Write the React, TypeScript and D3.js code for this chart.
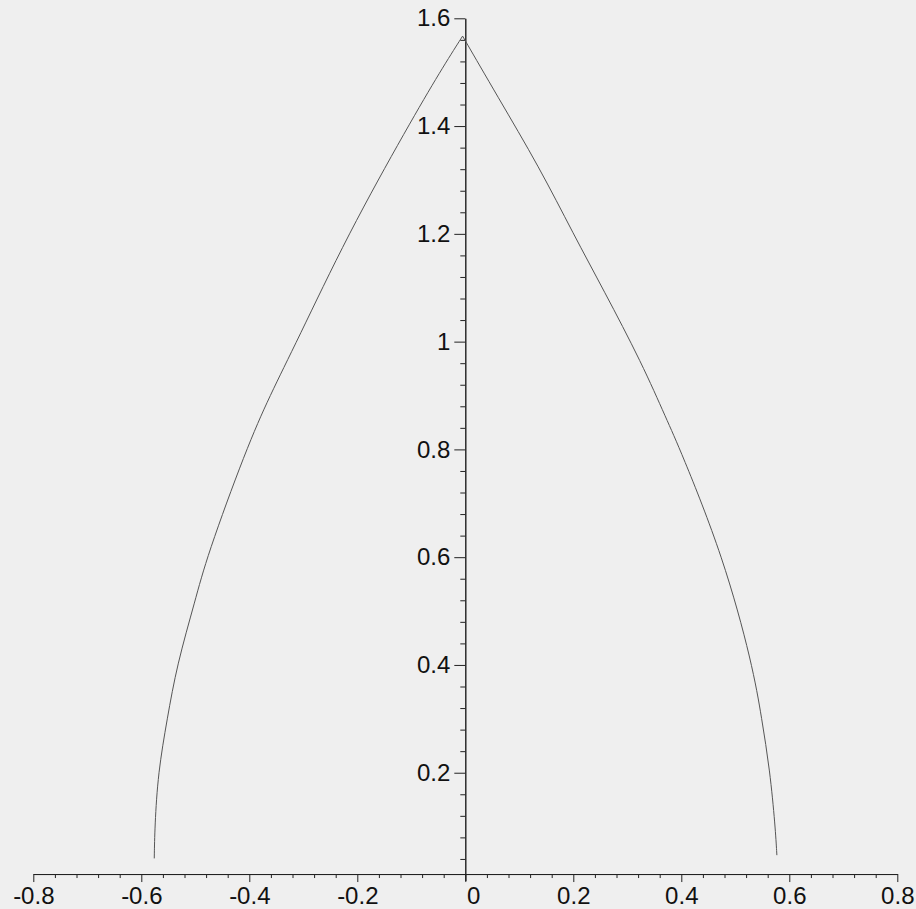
import React, { useEffect, useRef } from 'react'
import * as d3 from 'd3'

// points, bottom to top
const leftX = [-0.576, -0.575, -0.569, -0.552, -0.534, -0.5, -0.479, -0.406, -0.362, -0.312, -0.217, -0.106, -0.045, -0.005]
const leftY = [0.041, 0.1, 0.2, 0.3, 0.4, 0.52, 0.6, 0.8, 0.9, 1.0, 1.2, 1.4, 1.504, 1.567]
const rightX = [0.577, 0.574, 0.564, 0.549, 0.532, 0.478, 0.398, 0.373, 0.327, 0.256, 0.2, 0.138, 0.058, -0.005]
const rightY = [0.047, 0.1, 0.205, 0.3, 0.4, 0.6, 0.8, 0.855, 0.96, 1.096, 1.2, 1.322, 1.458, 1.567]

const xTicks = [-0.8, -0.6, -0.4, -0.2, 0, 0.2, 0.4, 0.6, 0.8]
const xTickLabels = ['-0.8', '-0.6', '-0.4', '-0.2', '0', '0.2', '0.4', '0.6', '0.8']
const yTicks = [0.2, 0.4, 0.6, 0.8, 1, 1.2, 1.4, 1.6]
const yTickLabels = ['0.2', '0.4', '0.6', '0.8', '1', '1.2', '1.4', '1.6']
const xAxisAt = 0.012

const width = 916
const height = 909

function App() {
    const svgRef = useRef<SVGSVGElement>(null)

    useEffect(() => {
        const svg = d3.select(svgRef.current)
        svg.selectAll('*').remove()

        const x = d3.scaleLinear().domain([-0.8, 0.8]).range([33.3, 897.3])
        const y = d3.scaleLinear().domain([0, 1.6]).range([880.5, 18.3])

        svg.append('rect')
            .attr('width', width)
            .attr('height', height)
            .attr('fill', '#efefef')

        const xMinor = d3.range(-20, 21).map(i => i * 0.04).filter(v => !xTicks.some(t => Math.abs(t - v) < 1e-6))
        const yMinor = d3.range(1, 40).map(i => i * 0.04).filter(v => !yTicks.some(t => Math.abs(t - v) < 1e-6))

        // x axis
        const gx = svg.append('g').attr('transform', `translate(0,${y(xAxisAt)})`)
        gx.call(d3.axisBottom(x).tickValues(xMinor).tickSize(4).tickSizeOuter(0).tickFormat(() => ''))
        gx.append('g').call(
            d3.axisBottom(x)
                .tickValues(xTicks)
                .tickSize(8)
                .tickSizeOuter(0)
                .tickPadding(5)
                .tickFormat((d, i) => xTickLabels[i])
        )
        gx.selectAll('.domain').attr('stroke', '#222')
        gx.selectAll('.tick line').attr('stroke', '#222')
        gx.selectAll('.tick text')
            .attr('fill', '#111')
            .style('font-family', 'Liberation Sans, Arial, sans-serif')
            .style('font-size', '24px')
            .attr('dx', (d: any) => (d === 0 ? 8 : 0))

        // y axis
        const gy = svg.append('g').attr('transform', `translate(${x(0)},0)`)
        gy.call(d3.axisLeft(y).tickValues(yMinor).tickSize(5).tickSizeOuter(0).tickFormat(() => ''))
        gy.append('g').call(
            d3.axisLeft(y)
                .tickValues(yTicks)
                .tickSize(11)
                .tickSizeOuter(0)
                .tickPadding(4)
                .tickFormat((d, i) => yTickLabels[i])
        )
        gy.selectAll('.domain').attr('stroke', '#222')
        gy.selectAll('.tick line').attr('stroke', '#222')
        gy.selectAll('.tick text')
            .attr('fill', '#111')
            .style('font-family', 'Liberation Sans, Arial, sans-serif')
            .style('font-size', '24px')

        const leftPts = leftX.map((v, i) => [x(v), y(leftY[i])] as [number, number])
        const rightPts = rightX.map((v, i) => [x(v), y(rightY[i])] as [number, number])
        const path = d3.line().curve(d3.curveBasis)

        svg.append('path')
            .attr('d', path(leftPts))
            .attr('fill', 'none')
            .attr('stroke', '#555')
            .attr('stroke-width', 1)
        svg.append('path')
            .attr('d', path(rightPts))
            .attr('fill', 'none')
            .attr('stroke', '#555')
            .attr('stroke-width', 1)
    }, [])

    return (
        <div style={{ position: 'fixed', left: 0, top: 0 }}>
            <svg ref={svgRef} width={width} height={height} style={{ display: 'block' }} />
        </div>
    )
}

export default App
